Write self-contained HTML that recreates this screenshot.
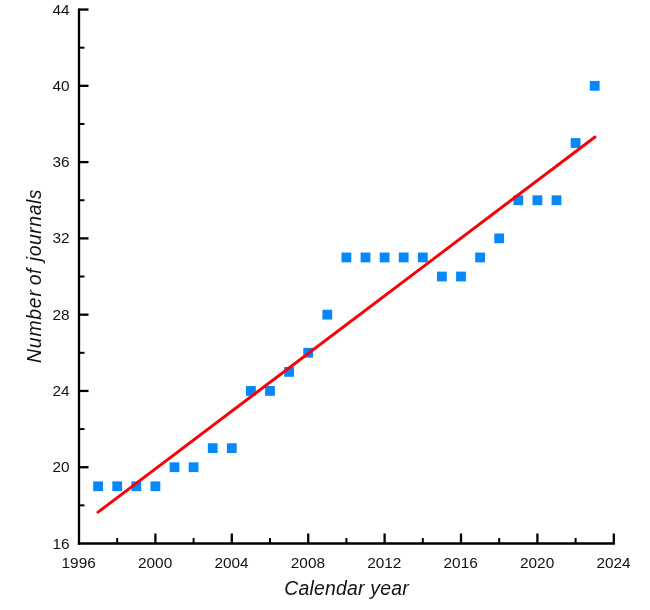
<!DOCTYPE html>
<html><head><meta charset="utf-8"><title>Number of journals by calendar year</title>
<style>
html,body{margin:0;padding:0;background:#fff;}
body{width:650px;height:610px;overflow:hidden;}
svg{display:block;font-family:"Liberation Sans",sans-serif;}
.t{font-size:15.4px;fill:#111;}
.l{font-size:19.4px;font-style:italic;fill:#111;}
</style></head><body>
<svg width="650" height="610" viewBox="0 0 650 610">
<rect width="650" height="610" fill="#fff"/>
<g fill="#0589fa">
<rect x="93.20" y="481.39" width="9.8" height="9.8"/>
<rect x="112.30" y="481.39" width="9.8" height="9.8"/>
<rect x="131.40" y="481.39" width="9.8" height="9.8"/>
<rect x="150.50" y="481.39" width="9.8" height="9.8"/>
<rect x="169.60" y="462.32" width="9.8" height="9.8"/>
<rect x="188.70" y="462.32" width="9.8" height="9.8"/>
<rect x="207.80" y="443.25" width="9.8" height="9.8"/>
<rect x="226.90" y="443.25" width="9.8" height="9.8"/>
<rect x="246.00" y="386.04" width="9.8" height="9.8"/>
<rect x="265.10" y="386.04" width="9.8" height="9.8"/>
<rect x="284.20" y="366.97" width="9.8" height="9.8"/>
<rect x="303.30" y="347.90" width="9.8" height="9.8"/>
<rect x="322.40" y="309.76" width="9.8" height="9.8"/>
<rect x="341.50" y="252.55" width="9.8" height="9.8"/>
<rect x="360.60" y="252.55" width="9.8" height="9.8"/>
<rect x="379.70" y="252.55" width="9.8" height="9.8"/>
<rect x="398.80" y="252.55" width="9.8" height="9.8"/>
<rect x="417.90" y="252.55" width="9.8" height="9.8"/>
<rect x="437.00" y="271.62" width="9.8" height="9.8"/>
<rect x="456.10" y="271.62" width="9.8" height="9.8"/>
<rect x="475.20" y="252.55" width="9.8" height="9.8"/>
<rect x="494.30" y="233.48" width="9.8" height="9.8"/>
<rect x="513.40" y="195.34" width="9.8" height="9.8"/>
<rect x="532.50" y="195.34" width="9.8" height="9.8"/>
<rect x="551.60" y="195.34" width="9.8" height="9.8"/>
<rect x="570.70" y="138.13" width="9.8" height="9.8"/>
<rect x="589.80" y="80.92" width="9.8" height="9.8"/>
</g>
<line x1="98" y1="512.2" x2="595" y2="137" stroke="#f90008" stroke-width="2.9" stroke-linecap="round"/>
<g stroke="#000" stroke-width="2.3" fill="none">
<path d="M79.0 8.39 V544.65"/>
<path d="M77.85 543.5 H614.95"/>
<path d="M79.0 467.22 h9.5"/>
<path d="M79.0 390.94 h9.5"/>
<path d="M79.0 314.66 h9.5"/>
<path d="M79.0 238.38 h9.5"/>
<path d="M79.0 162.10 h9.5"/>
<path d="M79.0 85.82 h9.5"/>
<path d="M79.0 9.54 h9.5"/>
<path d="M155.40 543.5 v-10"/>
<path d="M231.80 543.5 v-10"/>
<path d="M308.20 543.5 v-10"/>
<path d="M384.60 543.5 v-10"/>
<path d="M461.00 543.5 v-10"/>
<path d="M537.40 543.5 v-10"/>
<path d="M613.80 543.5 v-10"/>
</g><g stroke="#000" stroke-width="2" fill="none">
<path d="M79.0 505.36 h5.5"/>
<path d="M79.0 429.08 h5.5"/>
<path d="M79.0 352.80 h5.5"/>
<path d="M79.0 276.52 h5.5"/>
<path d="M79.0 200.24 h5.5"/>
<path d="M79.0 123.96 h5.5"/>
<path d="M79.0 47.68 h5.5"/>
<path d="M117.20 543.5 v-5.5"/>
<path d="M193.60 543.5 v-5.5"/>
<path d="M270.00 543.5 v-5.5"/>
<path d="M346.40 543.5 v-5.5"/>
<path d="M422.80 543.5 v-5.5"/>
<path d="M499.20 543.5 v-5.5"/>
<path d="M575.60 543.5 v-5.5"/>
</g>
<text class="t" x="69.5" y="548.60" text-anchor="end">16</text>
<text class="t" x="69.5" y="472.32" text-anchor="end">20</text>
<text class="t" x="69.5" y="396.04" text-anchor="end">24</text>
<text class="t" x="69.5" y="319.76" text-anchor="end">28</text>
<text class="t" x="69.5" y="243.48" text-anchor="end">32</text>
<text class="t" x="69.5" y="167.20" text-anchor="end">36</text>
<text class="t" x="69.5" y="90.92" text-anchor="end">40</text>
<text class="t" x="69.5" y="14.64" text-anchor="end">44</text>
<text class="t" x="78.70" y="568.1" text-anchor="middle">1996</text>
<text class="t" x="155.10" y="568.1" text-anchor="middle">2000</text>
<text class="t" x="231.50" y="568.1" text-anchor="middle">2004</text>
<text class="t" x="307.90" y="568.1" text-anchor="middle">2008</text>
<text class="t" x="384.30" y="568.1" text-anchor="middle">2012</text>
<text class="t" x="460.70" y="568.1" text-anchor="middle">2016</text>
<text class="t" x="537.10" y="568.1" text-anchor="middle">2020</text>
<text class="t" x="613.50" y="568.1" text-anchor="middle">2024</text>
<text class="l" x="346.5" y="595.2" text-anchor="middle" style="letter-spacing:0.22px">Calendar year</text>
<g transform="translate(41.2 0) rotate(-90)">
<text class="l" x="-362.9" y="0" style="letter-spacing:0.76px">Number</text>
<text class="l" x="-285.3" y="0" style="letter-spacing:0.5px">of</text>
<text class="l" x="-261.2" y="0" style="letter-spacing:0.55px">journals</text>
</g>
</svg></body></html>
